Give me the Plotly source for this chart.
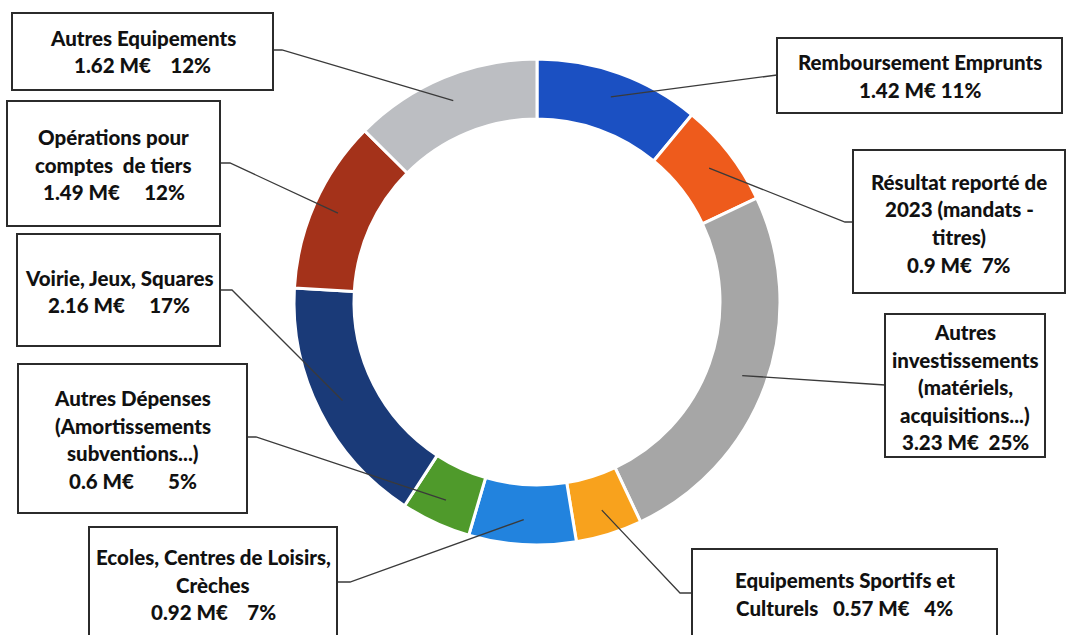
import math
import plotly.graph_objects as go

W, H = 1080, 635

# ---- data ----
categories = [
    "Remboursement Emprunts",
    "Résultat reporté de 2023 (mandats - titres)",
    "Autres investissements (matériels, acquisitions...)",
    "Equipements Sportifs et Culturels",
    "Ecoles, Centres de Loisirs, Crèches",
    "Autres Dépenses (Amortissements subventions...)",
    "Voirie, Jeux, Squares",
    "Opérations pour comptes de tiers",
    "Autres Equipements",
]
values_meur = [1.42, 0.90, 3.23, 0.57, 0.92, 0.60, 2.16, 1.49, 1.62]
pct_labels = ["11%", "7%", "25%", "4%", "7%", "5%", "17%", "12%", "12%"]
label_lines = [
    ["Remboursement Emprunts", "1.42 M€ 11%"],
    ["Résultat reporté de", "2023 (mandats -", "titres)", "0.9 M€  7%"],
    ["Autres", "investissements", "(matériels,", "acquisitions...)", "3.23 M€  25%"],
    ["Equipements Sportifs et", "Culturels   0.57 M€   4%"],
    ["Ecoles, Centres de Loisirs,", "Crèches", "0.92 M€    7%"],
    ["Autres Dépenses", "(Amortissements", "subventions...)", "0.6 M€       5%"],
    ["Voirie, Jeux, Squares", "2.16 M€     17%"],
    ["Opérations pour", "comptes  de tiers", "1.49 M€     12%"],
    ["Autres Equipements", "1.62 M€    12%"],
]
colors = ["#1B50C2", "#EE5B1C", "#A6A6A6", "#F8A21D", "#2283DE",
          "#4F9A2B", "#1A3A78", "#A4321A", "#BCBEC2"]

# ---- layout (pixels) ----
CX, CY, R_OUT, R_IN = 537, 302, 243, 183
# boxes: x0, y0, x1, y1
boxes = [
    (777, 38, 1062, 113),
    (853, 150, 1065, 293),
    (885, 314, 1045, 457),
    (692, 549, 997, 640),
    (89, 527, 337, 640),
    (18, 364, 247, 513),
    (17, 234, 220, 346),
    (7, 101, 220, 226),
    (12, 13, 273, 90),
]
line_y0 = [62, 182, 332, 580, 557, 398, 278, 137, 38]
# leader: attach point on box and optional elbow
leaders = [
    [(777, 75)],
    [(853, 222), (845, 222)],
    [(885, 385)],
    [(692, 593), (680, 593)],
    [(337, 582), (350, 582)],
    [(247, 437), (256, 437)],
    [(220, 290), (232, 290)],
    [(220, 163), (230, 163)],
    [(273, 50), (282, 50)],
]
LINE_SP = 27.5


def px(x):
    return x / W


def py(y):
    return 1 - y / H


fig = go.Figure(go.Pie(
    labels=categories,
    values=values_meur,
    sort=False,
    direction="clockwise",
    rotation=0,
    hole=R_IN / R_OUT,
    marker=dict(colors=colors, line=dict(color="white", width=3)),
    textinfo="none",
    hoverinfo="label+value",
    showlegend=False,
    domain=dict(x=[px(CX - R_OUT), px(CX + R_OUT)],
                y=[py(CY + R_OUT), py(CY - R_OUT)]),
))

shapes = []
annotations = []
total = sum(values_meur)
cum = 0.0
R_ANCH = 218
for i, v in enumerate(values_meur):
    mid = (cum + v / 2) / total * 2 * math.pi
    cum += v
    ax = CX + R_ANCH * math.sin(mid)
    ay = CY - R_ANCH * math.cos(mid)
    pts = leaders[i] + [(ax, ay)]
    path = "M " + " L ".join(f"{px(x):.5f},{py(y):.5f}" for x, y in pts)
    shapes.append(dict(type="path", xref="paper", yref="paper", path=path,
                       line=dict(color="#3a3a3a", width=1.3)))
    x0, y0, x1, y1 = boxes[i]
    shapes.append(dict(type="rect", xref="paper", yref="paper",
                       x0=px(x0), x1=px(x1), y0=py(y1), y1=py(y0),
                       fillcolor="white", line=dict(color="#2b2b2b", width=2)))
    for k, t in enumerate(label_lines[i]):
        annotations.append(dict(
            x=px((x0 + x1) / 2), y=py(line_y0[i] + k * LINE_SP),
            xref="paper", yref="paper", xanchor="center", yanchor="middle",
            text=t.replace(" ", "\u00a0"), showarrow=False,
            font=dict(family="Lato, Open Sans, sans-serif", size=20.5,
                      color="#111111", weight=900),
        ))

fig.update_layout(
    width=W, height=H,
    margin=dict(l=0, r=0, t=0, b=0),
    paper_bgcolor="white",
    plot_bgcolor="white",
    shapes=shapes,
    annotations=annotations,
)

fig.write_html("out.html")
